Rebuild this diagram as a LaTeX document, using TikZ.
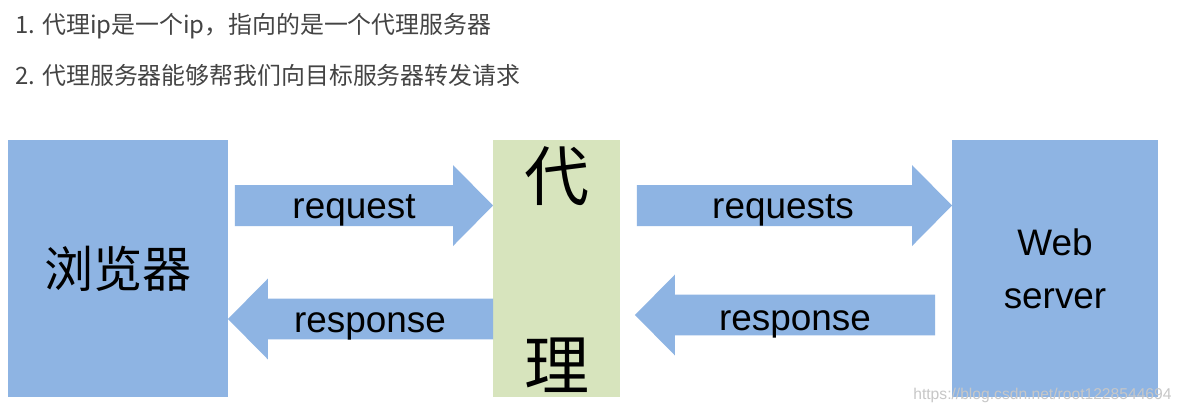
\documentclass[tikz,border=0pt]{standalone}
\usepackage{fontspec}
\setmainfont{Liberation Sans}
\newfontfamily\cjk{Noto Sans CJK SC}
\usepackage{tikz}
\usetikzlibrary{calc, positioning}

\definecolor{boxblue}{HTML}{8EB4E3}
\definecolor{proxygreen}{HTML}{D7E4BD}
\definecolor{notegray}{HTML}{444444}

\tikzset{
    box/.style={inner sep=0pt, outer sep=0pt, minimum height=5.14cm},
    bigarrow/.style={fill=boxblue, to path={let \p1=(\tikztostart), \p2=(\tikztotarget), \n1={sign(\x2-\x1)} in
        (\x1,\y1+0.41cm) -- (\x2-\n1*0.8cm,\y1+0.41cm) -- (\x2-\n1*0.8cm,\y1+0.81cm) -- (\x2,\y1)
        -- (\x2-\n1*0.8cm,\y1-0.81cm) -- (\x2-\n1*0.8cm,\y1-0.41cm) -- (\x1,\y1-0.41cm) -- cycle}},
    lbl/.style={anchor=base, inner sep=0pt, font=\fontsize{21}{25}\selectfont},
    note/.style={anchor=west, inner sep=0pt, text=notegray, font=\cjk\fontsize{13.6}{16}\selectfont},
    bigchar/.style={inner sep=0pt, font=\cjk\fontsize{37}{40}\selectfont},
    wmark/.style={anchor=west, inner sep=0pt, text=black!22, font=\fontsize{8.9}{10}\selectfont}
}

\begin{document}
\begin{tikzpicture}[x=0.02cm, y=-0.02cm]
    \fill[white] (0,0) rectangle (1184,414);
    \useasboundingbox (0,0) rectangle (1184,414);

    % notes
    \node[note] (line1) at (15,26) {1. 代理ip是一个ip，指向的是一个代理服务器};
    \node[note] (line2) at (15,75) {2. 代理服务器能够帮我们向目标服务器转发请求};

    % boxes
    \node[box, fill=boxblue, minimum width=4.4cm, font=\cjk\fontsize{28}{30}\selectfont] (browser) at (118,268.5) {浏览器};
    \node[box, fill=proxygreen, minimum width=2.54cm] (proxy) at (556.5,268.5) {};
    \node[bigchar] (dai) at (557,176) {代};
    \node[bigchar] (li) at (557,365) {理};
    \node[box, fill=boxblue, minimum width=4.12cm, align=center, font=\fontsize{21}{30}\selectfont] (server) at (1055,268.5) {Web\\server};

    % arrows
    \path[bigarrow] ([shift={(0.14cm,1.26cm)}]browser.east) to ([yshift=1.26cm]proxy.west);
    \path[bigarrow] ([yshift=-1.01cm]proxy.west) to ([yshift=-1.01cm]browser.east);
    \path[bigarrow] ([shift={(0.34cm,1.26cm)}]proxy.east) to ([yshift=1.26cm]server.west);
    \path[bigarrow] ([shift={(-0.34cm,-0.93cm)}]server.west) to ([shift={(0.3cm,-0.93cm)}]proxy.east);

    \node[lbl] (reqa) at (354,218) {request};
    \node[lbl] (resa) at (370,332) {response};
    \node[lbl] (reqb) at (783,218) {requests};
    \node[lbl] (resb) at (795,330) {response};

    \node[wmark] (url) at (913,395) {https://blog.csdn.net/root1228544694};
\end{tikzpicture}
\end{document}
